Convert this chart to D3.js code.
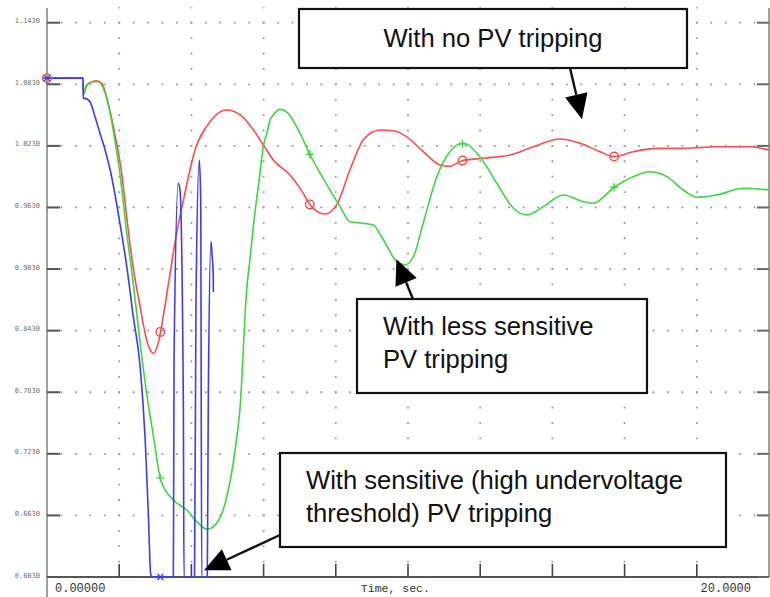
<!DOCTYPE html>
<html>
<head>
<meta charset="utf-8">
<script src="https://cdn.jsdelivr.net/npm/d3@7"></script>
<style>
  html, body { margin: 0; padding: 0; background: #fff; }
  svg { display: block; }
</style>
</head>
<body>
<svg id="chart" width="770" height="597"></svg>
<script>
// Bus voltage after a fault for three PV tripping settings (time in seconds, voltage in pu)

const timeTicks = [0, 2, 4, 6, 8, 10, 12, 14, 16, 18, 20];
const timeTickLabels = { 0: "0.00000", 20: "20.0000" };
const voltageTicks = [0.603, 0.663, 0.723, 0.783, 0.843, 0.903, 0.963, 1.023, 1.083, 1.143];
const markerTimes = [0, 3.14, 7.28, 11.51, 15.71];

// With no PV tripping
const noTripping = [
  [0, 1.089], [1.0, 1.089], [1.01, 1.073], [1.10, 1.082], [1.25, 1.0855], [1.38, 1.0865],
  [1.52, 1.084], [1.65, 1.071], [1.79, 1.050], [1.93, 1.0255], [2.07, 0.9963], [2.21, 0.953],
  [2.39, 0.904], [2.58, 0.8663], [2.76, 0.8339], [2.95, 0.8209], [3.08, 0.8307], [3.22, 0.8566],
  [3.41, 0.8989], [3.59, 0.9378], [3.78, 0.9703], [3.96, 0.9995], [4.10, 1.0190], [4.42, 1.0417],
  [4.98, 1.0580], [5.35, 1.0531], [5.72, 1.0385], [6.0, 1.0235], [6.27, 1.0092], [6.73, 0.9946],
  [7.10, 0.9768], [7.29, 0.9654], [7.70, 0.9566], [8.03, 0.966], [8.39, 0.9995], [8.76, 1.0287],
  [9.22, 1.0385], [9.59, 1.0378], [9.96, 1.032], [10.42, 1.0173], [10.89, 1.0044], [11.16, 1.003],
  [11.50, 1.0086], [12.09, 1.011], [12.83, 1.0141], [13.47, 1.0222], [14.21, 1.0297], [14.77, 1.0255],
  [15.32, 1.0173], [15.69, 1.0125], [16.24, 1.0173], [16.89, 1.0206], [17.63, 1.0206], [18.55, 1.0222],
  [19.47, 1.0222], [20.0, 1.019]
];

// With less sensitive PV tripping
const lessSensitive = [
  [0, 1.089], [1.0, 1.089], [1.01, 1.0726], [1.10, 1.0823], [1.28, 1.0855], [1.42, 1.0855],
  [1.61, 1.0742], [1.75, 1.0547], [1.88, 1.0287], [2.02, 0.996], [2.21, 0.9378], [2.39, 0.8891],
  [2.58, 0.8307], [2.76, 0.782], [2.95, 0.7397], [3.15, 0.6975], [3.50, 0.678], [3.87, 0.6683],
  [4.15, 0.6569], [4.44, 0.6495], [4.70, 0.6553], [4.98, 0.6812], [5.21, 0.7267], [5.35, 0.769],
  [5.53, 0.8826], [5.62, 0.9118], [5.74, 0.952], [5.90, 0.9963], [5.99, 1.022], [6.09, 1.0353],
  [6.18, 1.0482], [6.27, 1.0531], [6.45, 1.0586], [6.68, 1.0547], [7.01, 1.0353], [7.29, 1.0141],
  [7.65, 0.9914], [8.12, 0.9638], [8.39, 0.9491], [8.76, 0.9476], [9.04, 0.9459], [9.32, 0.9313],
  [9.69, 0.9102], [9.92, 0.907], [10.15, 0.915], [10.42, 0.9476], [10.80, 0.993], [11.16, 1.0173],
  [11.53, 1.0255], [11.99, 1.0125], [12.46, 0.9866], [12.92, 0.9622], [13.29, 0.9557], [13.75, 0.9638],
  [14.30, 0.9751], [14.86, 0.9686], [15.13, 0.9671], [15.73, 0.9832], [16.24, 0.993], [16.70, 0.9978],
  [17.17, 0.993], [17.63, 0.98], [18.00, 0.9729], [18.55, 0.9751], [19.29, 0.9817], [20.0, 0.98]
];

// With sensitive (high undervoltage threshold) PV tripping; values at the floor are held at the axis minimum
const sensitive = [
  [0, 1.089], [1.0, 1.089], [1.001, 1.0693], [1.05, 1.0693], [1.19, 1.066], [1.33, 1.0514],
  [1.47, 1.035], [1.61, 1.019], [1.75, 0.9995], [2.02, 0.9476], [2.21, 0.9053], [2.39, 0.8566],
  [2.58, 0.8079], [2.72, 0.7365], [2.81, 0.6618], [2.87, 0.6066], [2.90, 0.603], [3.50, 0.603],
  [3.52, 0.8183], [3.637, 0.9865], [3.684, 0.98], [3.776, 0.7759], [3.795, 0.603], [4.086, 0.603],
  [4.127, 0.8728], [4.219, 1.0092], [4.258, 0.97], [4.285, 0.603], [4.44, 0.603], [4.468, 0.7759],
  [4.543, 0.9297], [4.571, 0.917], [4.607, 0.896], [4.608, 0.8807]
];

const series = [
  { name: "noTripping", data: noTripping, color: "#ff4a4a", marker: "circle" },
  { name: "lessSensitive", data: lessSensitive, color: "#3ad83a", marker: "plus" },
  { name: "sensitive", data: sensitive, color: "#3a3aff", marker: "star" }
];

// Callout boxes (pixel layout) with arrow tips placed in data space
const callouts = [
  { box: [299, 9, 388, 59], lines: ["With no PV tripping"], align: "middle", textX: 493, baselines: [47],
    tail: [570, 68], tip: [14.82, 1.049] },
  { box: [357, 299, 290, 94], lines: ["With less sensitive", "PV tripping"], align: "start", textX: 383, baselines: [335, 368],
    tail: [413, 299], tip: [9.68, 0.9125] },
  { box: [280, 453, 446, 94], lines: ["With sensitive (high undervoltage", "threshold) PV tripping"], align: "start", textX: 306, baselines: [489, 522],
    tail: [280, 535], tip: [4.35, 0.6095] }
];

const svg = d3.select("#chart");
const plotLeft = 47, plotRight = 769, plotTop = 22.7, plotBottom = 577;

const x = d3.scaleLinear().domain([0, 20]).range([plotLeft, plotRight]);
const y = d3.scaleLinear().domain([0.603, 1.143]).range([plotBottom, plotTop]);

svg.append("rect").attr("width", 770).attr("height", 597).attr("fill", "#fff");

// Dotted grid
const xStep = x(2) - x(0), yStep = y(0.663) - y(0.723);
const grid = svg.append("g").attr("stroke", "#999").attr("stroke-width", 1.8);
grid.selectAll("line.h").data(voltageTicks.slice(1)).join("line")
  .attr("class", "h")
  .attr("x1", plotLeft).attr("x2", plotRight)
  .attr("y1", d => y(d)).attr("y2", d => y(d))
  .attr("stroke-dasharray", `1.8,${xStep / 5 - 1.8}`)
  .attr("stroke-dashoffset", 0.9);
grid.selectAll("line.v").data(timeTicks.slice(1, -1)).join("line")
  .attr("class", "v")
  .attr("x1", d => x(d)).attr("x2", d => x(d))
  .attr("y1", plotBottom).attr("y2", plotTop - yStep / 4)
  .attr("stroke-dasharray", `1.8,${yStep / 4 - 1.8}`)
  .attr("stroke-dashoffset", 0.9);

// Axes (frame lines and ticks sit under the curves)
const axes = svg.append("g");
axes.append("line").attr("x1", plotLeft).attr("x2", plotLeft).attr("y1", 8).attr("y2", 597)
  .attr("stroke", "#a0a0a0").attr("stroke-width", 2);
axes.append("line").attr("x1", plotRight).attr("x2", plotRight).attr("y1", 8).attr("y2", plotBottom)
  .attr("stroke", "#a0a0a0").attr("stroke-width", 2);
axes.append("line").attr("x1", plotLeft).attr("x2", plotRight).attr("y1", plotBottom).attr("y2", plotBottom)
  .attr("stroke", "#555").attr("stroke-width", 2);

axes.selectAll("line.yl").data(voltageTicks).join("line")
  .attr("class", "yl")
  .attr("x1", plotLeft).attr("x2", plotLeft + 13)
  .attr("y1", d => y(d)).attr("y2", d => y(d))
  .attr("stroke", "#555").attr("stroke-width", 2);
axes.selectAll("line.yr").data(voltageTicks).join("line")
  .attr("class", "yr")
  .attr("x1", plotRight - 12).attr("x2", plotRight)
  .attr("y1", d => y(d)).attr("y2", d => y(d))
  .attr("stroke", "#666").attr("stroke-width", 2);
axes.selectAll("line.xt").data(timeTicks.slice(1, -1)).join("line")
  .attr("class", "xt")
  .attr("x1", d => x(d)).attr("x2", d => x(d))
  .attr("y1", plotBottom - 13).attr("y2", plotBottom)
  .attr("stroke", "#444").attr("stroke-width", 1.6);

const fmtV = d3.format(".4f");
axes.selectAll("text.yt").data(voltageTicks).join("text")
  .attr("class", "yt")
  .attr("x", 40).attr("y", d => y(d) + 0.5)
  .attr("text-anchor", "end")
  .attr("font-family", "DejaVu Sans Mono, monospace")
  .attr("font-size", 7)
  .attr("fill", "#707070")
  .text(d => fmtV(d));

axes.selectAll("text.xtl").data(timeTicks.filter(t => timeTickLabels[t])).join("text")
  .attr("class", "xtl")
  .attr("x", d => d === 0 ? x(d) + 8 : x(d) - 18)
  .attr("y", 592)
  .attr("text-anchor", d => d === 0 ? "start" : "end")
  .attr("font-family", "Liberation Mono, monospace")
  .attr("font-size", 12)
  .attr("fill", "#333")
  .text(d => timeTickLabels[d]);

axes.append("text")
  .attr("x", x(9.65)).attr("y", 592)
  .attr("text-anchor", "middle")
  .attr("font-family", "Liberation Mono, monospace")
  .attr("font-size", 11.5)
  .attr("fill", "#333")
  .text("Time, sec.");

// Curves
svg.append("clipPath").attr("id", "plotClip")
  .append("rect").attr("x", plotLeft).attr("y", 0).attr("width", plotRight - plotLeft).attr("height", plotBottom + 1.5);

const line = d3.line()
  .x(d => x(d[0])).y(d => y(d[1]))
  .curve(d3.curveMonotoneX);

const curves = svg.append("g").attr("clip-path", "url(#plotClip)");
series.forEach(s => {
  curves.append("path")
    .datum(s.data)
    .attr("fill", "none")
    .attr("stroke", s.color)
    .attr("stroke-width", 1.6)
    .attr("stroke-linejoin", "round")
    .attr("d", line);
});

// Markers at fixed sample times
function valueAt(data, t) {
  if (t < data[0][0] || t > data[data.length - 1][0]) return null;
  for (let i = 1; i < data.length; i++) {
    const a = data[i - 1], b = data[i];
    if (t <= b[0]) {
      if (b[0] === a[0]) return b[1];
      return a[1] + (b[1] - a[1]) * (t - a[0]) / (b[0] - a[0]);
    }
  }
  return null;
}
const markers = svg.append("g");
series.forEach(s => {
  const pts = markerTimes.map(t => [t, valueAt(s.data, t)]).filter(p => p[1] !== null);
  pts.forEach(p => {
    const cx = x(p[0]), cy = y(p[1]);
    if (s.marker === "circle") {
      markers.append("circle").attr("cx", cx).attr("cy", cy).attr("r", 4.3)
        .attr("fill", "none").attr("stroke", s.color).attr("stroke-width", 1.4);
    } else if (s.marker === "plus") {
      markers.append("path").attr("d", `M${cx - 4},${cy}H${cx + 4}M${cx},${cy - 4}V${cy + 4}`)
        .attr("stroke", s.color).attr("stroke-width", 1.4);
    } else {
      markers.append("path")
        .attr("d", `M${cx - 4},${cy}H${cx + 4}M${cx - 3},${cy - 3}L${cx + 3},${cy + 3}M${cx - 3},${cy + 3}L${cx + 3},${cy - 3}`)
        .attr("stroke", s.color).attr("stroke-width", 1.4);
    }
  });
});

// Callouts
const notes = svg.append("g");
callouts.forEach(c => {
  const [bx, by, bw, bh] = c.box;
  notes.append("rect").attr("x", bx).attr("y", by).attr("width", bw).attr("height", bh)
    .attr("fill", "#fff").attr("stroke", "#111").attr("stroke-width", 2.2);
  c.lines.forEach((txt, i) => {
    notes.append("text")
      .attr("x", c.textX).attr("y", c.baselines[i])
      .attr("text-anchor", c.align)
      .attr("font-family", "Liberation Sans, Arial, sans-serif")
      .attr("font-size", 25.6)
      .attr("fill", "#111")
      .text(txt);
  });
  const tip = [x(c.tip[0]), y(c.tip[1])];
  const dx = tip[0] - c.tail[0], dy = tip[1] - c.tail[1];
  const len = Math.hypot(dx, dy), ux = dx / len, uy = dy / len;
  const headLen = 25, headHalf = 11.5;
  const base = [tip[0] - ux * headLen, tip[1] - uy * headLen];
  notes.append("line")
    .attr("x1", c.tail[0]).attr("y1", c.tail[1]).attr("x2", base[0]).attr("y2", base[1])
    .attr("stroke", "#111").attr("stroke-width", 2.4);
  notes.append("path")
    .attr("d", `M${tip[0]},${tip[1]}L${base[0] - uy * headHalf},${base[1] + ux * headHalf}L${base[0] + uy * headHalf},${base[1] - ux * headHalf}Z`)
    .attr("fill", "#000");
});
</script>
</body>
</html>
